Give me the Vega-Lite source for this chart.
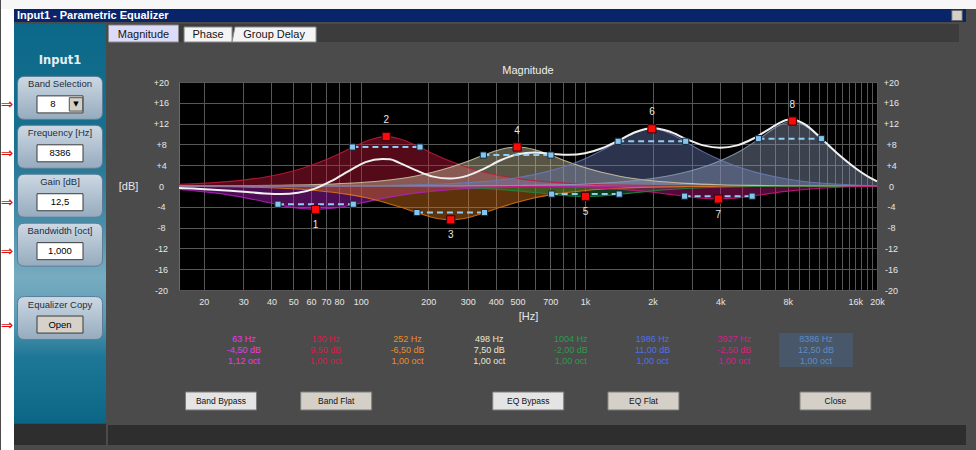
{
  "$schema": "https://vega.github.io/schema/vega-lite/v6.json",
  "background": "#4b4b4b",
  "padding": 0,
  "config": {
    "view": {"stroke": null},
    "font": "Liberation Sans",
    "text": {"font": "Liberation Sans"},
    "axis": {"labelFont": "Liberation Sans", "titleFont": "Liberation Sans"},
    "title": {"font": "Liberation Sans"}
  },
  "datasets": {
    "bands": [
      {"band":1,"f":15.5,"db":-0.68},{"band":1,"f":18.7,"db":-0.98},{"band":1,"f":22.3,"db":-1.33},{"band":1,"f":26.5,"db":-1.8},{"band":1,"f":31.5,"db":-2.38},{"band":1,"f":37.5,"db":-3.05},{"band":1,"f":44.5,"db":-3.74},{"band":1,"f":53,"db":-4.29},{"band":1,"f":63,"db":-4.5},{"band":1,"f":74.9,"db":-4.29},{"band":1,"f":89.1,"db":-3.74},{"band":1,"f":105.9,"db":-3.05},{"band":1,"f":126,"db":-2.38},{"band":1,"f":149.8,"db":-1.8},{"band":1,"f":178.2,"db":-1.33},{"band":1,"f":211.9,"db":-0.98},{"band":1,"f":252,"db":-0.71},{"band":1,"f":356,"db":-0.36},{"band":1,"f":504,"db":-0.18},{"band":1,"f":713,"db":-0.09},{"band":1,"f":1008,"db":-0.05},{"band":1,"f":2016,"db":-0.01},{"band":1,"f":4032,"db":0},{"band":1,"f":20000,"db":0},
      {"band":2,"f":15.5,"db":0.33},{"band":2,"f":23,"db":0.69},{"band":2,"f":32.5,"db":1.33},{"band":2,"f":38.65,"db":1.84},{"band":2,"f":45.96,"db":2.5},{"band":2,"f":54.66,"db":3.38},{"band":2,"f":65,"db":4.5},{"band":2,"f":77.3,"db":5.87},{"band":2,"f":91.9,"db":7.43},{"band":2,"f":109.3,"db":8.86},{"band":2,"f":130,"db":9.5},{"band":2,"f":154.6,"db":8.86},{"band":2,"f":183.8,"db":7.43},{"band":2,"f":218.6,"db":5.87},{"band":2,"f":260,"db":4.5},{"band":2,"f":309.2,"db":3.38},{"band":2,"f":367.7,"db":2.5},{"band":2,"f":437.3,"db":1.84},{"band":2,"f":520,"db":1.33},{"band":2,"f":735.4,"db":0.69},{"band":2,"f":1040,"db":0.35},{"band":2,"f":1471,"db":0.18},{"band":2,"f":2080,"db":0.09},{"band":2,"f":4160,"db":0.02},{"band":2,"f":8320,"db":0.01},{"band":2,"f":20000,"db":0},
      {"band":3,"f":15.5,"db":-0.05},{"band":3,"f":31.5,"db":-0.22},{"band":3,"f":44.5,"db":-0.44},{"band":3,"f":63,"db":-0.86},{"band":3,"f":74.9,"db":-1.2},{"band":3,"f":89.1,"db":-1.66},{"band":3,"f":106,"db":-2.27},{"band":3,"f":126,"db":-3.07},{"band":3,"f":149.8,"db":-4.05},{"band":3,"f":178.2,"db":-5.14},{"band":3,"f":211.9,"db":-6.1},{"band":3,"f":252,"db":-6.5},{"band":3,"f":299.7,"db":-6.1},{"band":3,"f":356.4,"db":-5.14},{"band":3,"f":423.8,"db":-4.05},{"band":3,"f":504,"db":-3.07},{"band":3,"f":599.4,"db":-2.27},{"band":3,"f":712.8,"db":-1.66},{"band":3,"f":847.6,"db":-1.2},{"band":3,"f":1008,"db":-0.86},{"band":3,"f":1425.5,"db":-0.44},{"band":3,"f":2016,"db":-0.22},{"band":3,"f":2851,"db":-0.11},{"band":3,"f":4032,"db":-0.05},{"band":3,"f":8064,"db":-0.01},{"band":3,"f":20000,"db":0},
      {"band":4,"f":15.5,"db":0.02},{"band":4,"f":31.1,"db":0.07},{"band":4,"f":44,"db":0.13},{"band":4,"f":62.25,"db":0.26},{"band":4,"f":88,"db":0.52},{"band":4,"f":124.5,"db":1.01},{"band":4,"f":148.1,"db":1.4},{"band":4,"f":176.1,"db":1.93},{"band":4,"f":209.4,"db":2.63},{"band":4,"f":249,"db":3.54},{"band":4,"f":296.1,"db":4.66},{"band":4,"f":352.1,"db":5.91},{"band":4,"f":418.8,"db":7.03},{"band":4,"f":498,"db":7.5},{"band":4,"f":592.2,"db":7.03},{"band":4,"f":704.3,"db":5.91},{"band":4,"f":837.5,"db":4.66},{"band":4,"f":996,"db":3.54},{"band":4,"f":1184.5,"db":2.63},{"band":4,"f":1408.6,"db":1.93},{"band":4,"f":1675,"db":1.4},{"band":4,"f":1992,"db":1.01},{"band":4,"f":2817,"db":0.51},{"band":4,"f":3984,"db":0.25},{"band":4,"f":5634,"db":0.12},{"band":4,"f":7968,"db":0.05},{"band":4,"f":20000,"db":0},
      {"band":5,"f":15.5,"db":0},{"band":5,"f":62.75,"db":-0.02},{"band":5,"f":125.5,"db":-0.06},{"band":5,"f":177.5,"db":-0.13},{"band":5,"f":251,"db":-0.25},{"band":5,"f":298.5,"db":-0.35},{"band":5,"f":355,"db":-0.49},{"band":5,"f":422,"db":-0.69},{"band":5,"f":502,"db":-0.94},{"band":5,"f":597,"db":-1.26},{"band":5,"f":710,"db":-1.6},{"band":5,"f":844,"db":-1.89},{"band":5,"f":1004,"db":-2},{"band":5,"f":1194,"db":-1.89},{"band":5,"f":1420,"db":-1.6},{"band":5,"f":1689,"db":-1.26},{"band":5,"f":2008,"db":-0.94},{"band":5,"f":2388,"db":-0.68},{"band":5,"f":2840,"db":-0.49},{"band":5,"f":3377,"db":-0.35},{"band":5,"f":4016,"db":-0.24},{"band":5,"f":5680,"db":-0.11},{"band":5,"f":8032,"db":-0.05},{"band":5,"f":16064,"db":-0.01},{"band":5,"f":20000,"db":0},
      {"band":6,"f":15.5,"db":0},{"band":6,"f":31,"db":0.01},{"band":6,"f":62.06,"db":0.03},{"band":6,"f":124.1,"db":0.11},{"band":6,"f":175.5,"db":0.22},{"band":6,"f":248.3,"db":0.43},{"band":6,"f":351.1,"db":0.84},{"band":6,"f":496.5,"db":1.6},{"band":6,"f":590.4,"db":2.19},{"band":6,"f":702.2,"db":2.96},{"band":6,"f":835,"db":3.95},{"band":6,"f":993,"db":5.21},{"band":6,"f":1180.9,"db":6.76},{"band":6,"f":1404.3,"db":8.54},{"band":6,"f":1670.1,"db":10.23},{"band":6,"f":1986,"db":11},{"band":6,"f":2362,"db":10.21},{"band":6,"f":2809,"db":8.48},{"band":6,"f":3340,"db":6.66},{"band":6,"f":3972,"db":5.08},{"band":6,"f":4723,"db":3.78},{"band":6,"f":5617,"db":2.76},{"band":6,"f":7944,"db":1.36},{"band":6,"f":11234,"db":0.57},{"band":6,"f":15888,"db":0.17},{"band":6,"f":20000,"db":0.04},
      {"band":7,"f":15.5,"db":0},{"band":7,"f":122.7,"db":-0.01},{"band":7,"f":245.4,"db":-0.02},{"band":7,"f":347,"db":-0.04},{"band":7,"f":491,"db":-0.08},{"band":7,"f":694,"db":-0.16},{"band":7,"f":982,"db":-0.3},{"band":7,"f":1167.6,"db":-0.44},{"band":7,"f":1388.4,"db":-0.61},{"band":7,"f":1651,"db":-0.85},{"band":7,"f":1963.5,"db":-1.15},{"band":7,"f":2335,"db":-1.56},{"band":7,"f":2777,"db":-1.98},{"band":7,"f":3302,"db":-2.35},{"band":7,"f":3927,"db":-2.5},{"band":7,"f":4670,"db":-2.34},{"band":7,"f":5554,"db":-1.94},{"band":7,"f":6604,"db":-1.47},{"band":7,"f":7854,"db":-1.04},{"band":7,"f":11107,"db":-0.44},{"band":7,"f":15708,"db":-0.13},{"band":7,"f":20000,"db":-0.03},
      {"band":8,"f":15.5,"db":0},{"band":8,"f":131,"db":0.01},{"band":8,"f":262,"db":0.03},{"band":8,"f":524,"db":0.11},{"band":8,"f":1048,"db":0.42},{"band":8,"f":1482,"db":0.83},{"band":8,"f":2096,"db":1.58},{"band":8,"f":2493,"db":2.16},{"band":8,"f":2965,"db":2.93},{"band":8,"f":3526,"db":3.94},{"band":8,"f":4193,"db":5.24},{"band":8,"f":4986,"db":6.89},{"band":8,"f":5930,"db":8.96},{"band":8,"f":7052,"db":11.24},{"band":8,"f":8386,"db":12.5},{"band":8,"f":9973,"db":11.06},{"band":8,"f":11860,"db":8.15},{"band":8,"f":14103,"db":5.28},{"band":8,"f":16772,"db":2.8},{"band":8,"f":19945,"db":0.9},{"band":8,"f":20000,"db":0.87}
    ],
    "total": [
      {"f":15.5,"db":-0.4},{"f":18.58,"db":-0.52},{"f":22.1,"db":-0.7},{"f":26.28,"db":-0.93},{"f":31.25,"db":-1.17},{"f":37.16,"db":-1.42},{"f":44.19,"db":-1.55},{"f":52.56,"db":-1.3},{"f":62.5,"db":-0.5},{"f":74.3,"db":1.0},{"f":88.4,"db":2.85},{"f":105.1,"db":4.6},{"f":125,"db":5.2},{"f":135,"db":5.15},{"f":148.7,"db":4.45},{"f":176.8,"db":3.0},{"f":210.2,"db":1.8},{"f":250,"db":1.42},{"f":297.3,"db":1.95},{"f":353.6,"db":3.3},{"f":420.4,"db":4.95},{"f":500,"db":6.12},{"f":594.6,"db":6.45},{"f":707.1,"db":6.21},{"f":840.9,"db":5.99},{"f":1000,"db":6.29},{"f":1189,"db":7.25},{"f":1414,"db":8.77},{"f":1682,"db":10.38},{"f":2000,"db":11.17},{"f":2378,"db":10.47},{"f":2828,"db":9.01},{"f":3364,"db":7.81},{"f":4000,"db":7.34},{"f":4757,"db":7.81},{"f":5657,"db":9.18},{"f":6727,"db":11.15},{"f":8000,"db":12.73},{"f":8386,"db":12.8},{"f":9514,"db":11.91},{"f":11314,"db":9.11},{"f":13454,"db":6.11},{"f":16000,"db":3.47},{"f":19027,"db":1.36},{"f":20000,"db":0.88}
    ],
    "edges": [
      {"band":1,"f":42.8,"db":-3.5},{"band":1,"f":92.7,"db":-3.5},
      {"band":2,"f":91.9,"db":7.5},{"band":2,"f":183.8,"db":7.5},
      {"band":3,"f":178.2,"db":-5.1},{"band":3,"f":356.4,"db":-5.1},
      {"band":4,"f":352.1,"db":5.95},{"band":4,"f":704.3,"db":5.95},
      {"band":5,"f":710,"db":-1.55},{"band":5,"f":1420,"db":-1.55},
      {"band":6,"f":1404,"db":8.6},{"band":6,"f":2809,"db":8.6},
      {"band":7,"f":2777,"db":-1.95},{"band":7,"f":5554,"db":-1.95},
      {"band":8,"f":5930,"db":9.1},{"band":8,"f":11300,"db":9.1}
    ],
    "peaks": [
      {"band":1,"f":63,"db":-4.5},{"band":2,"f":130,"db":9.5},{"band":3,"f":252,"db":-6.5},{"band":4,"f":498,"db":7.5},
      {"band":5,"f":1004,"db":-2},{"band":6,"f":1986,"db":11},{"band":7,"f":3927,"db":-2.5},{"band":8,"f":8386,"db":12.5}
    ],
    "table": [
      {"band":1,"row":"Hz","label":"63 Hz"},{"band":1,"row":"dB","label":"-4,50 dB"},{"band":1,"row":"oct","label":"1,12 oct"},
      {"band":2,"row":"Hz","label":"130 Hz"},{"band":2,"row":"dB","label":"9,50 dB"},{"band":2,"row":"oct","label":"1,00 oct"},
      {"band":3,"row":"Hz","label":"252 Hz"},{"band":3,"row":"dB","label":"-6,50 dB"},{"band":3,"row":"oct","label":"1,00 oct"},
      {"band":4,"row":"Hz","label":"498 Hz"},{"band":4,"row":"dB","label":"7,50 dB"},{"band":4,"row":"oct","label":"1,00 oct"},
      {"band":5,"row":"Hz","label":"1004 Hz"},{"band":5,"row":"dB","label":"-2,00 dB"},{"band":5,"row":"oct","label":"1,00 oct"},
      {"band":6,"row":"Hz","label":"1986 Hz"},{"band":6,"row":"dB","label":"11,00 dB"},{"band":6,"row":"oct","label":"1,00 oct"},
      {"band":7,"row":"Hz","label":"3927 Hz"},{"band":7,"row":"dB","label":"-2,50 dB"},{"band":7,"row":"oct","label":"1,00 oct"},
      {"band":8,"row":"Hz","label":"8386 Hz"},{"band":8,"row":"dB","label":"12,50 dB"},{"band":8,"row":"oct","label":"1,00 oct"}
    ],
    "panel": [
      {"item":"Input1","kind":"title","value":""},
      {"item":"Band Selection","kind":"combo","value":"8"},
      {"item":"Frequency [Hz]","kind":"field","value":"8386"},
      {"item":"Gain [dB]","kind":"field","value":"12,5"},
      {"item":"Bandwidth [oct]","kind":"field","value":"1,000"},
      {"item":"Equalizer Copy","kind":"button","value":"Open"}
    ]
  },
  "bounds": "flush",
  "spacing": 0,
  "resolve": {"scale": {"color": "independent", "shape": "independent", "x": "independent", "y": "independent"}},
  "vconcat": [
    {"width": 976, "height": 9, "view": {"fill": "#f7f7f7"}, "data": {"values": [{}]}, "mark": {"type": "point", "opacity": 0}, "encoding": {}},
    {
      "bounds": "flush",
      "spacing": 0,
      "resolve": {"scale": {"color": "independent", "shape": "independent", "x": "independent", "y": "independent"}},
      "hconcat": [
        {"width": 13, "height": 441, "view": {"fill": "#ffffff"}, "data": {"values": [{}]}, "mark": {"type": "point", "opacity": 0}, "encoding": {}},
        {
          "bounds": "flush",
          "spacing": 2,
          "resolve": {"scale": {"color": "independent", "shape": "independent", "x": "independent", "y": "independent"}},
          "vconcat": [
            {
              "width": 952, "height": 13,
              "view": {"fill": "#0a246a"},
              "data": {"values": [{"t": "Input1 - Parametric Equalizer"}]},
              "layer": [
                {"mark": {"type": "text", "align": "left", "dx": 3, "fontWeight": "bold", "fontSize": 11, "color": "#ffffff"},
                 "encoding": {"x": {"datum": 0, "type": "quantitative", "scale": {"domain": [0, 1]}, "axis": null}, "text": {"field": "t"}}},
                {"mark": {"type": "square", "size": 110, "filled": true, "color": "#d4d0c8", "stroke": "#5a5a5a", "strokeWidth": 1, "opacity": 1, "xOffset": -9},
                 "encoding": {"x": {"datum": 1, "type": "quantitative", "scale": {"domain": [0, 1]}, "axis": null}}}
              ]
            },
            {
              "bounds": "flush",
              "spacing": 2,
              "resolve": {"scale": {"color": "independent", "shape": "independent"}},
              "hconcat": [
                {
                  "width": 92, "height": 421,
                  "data": {"name": "panel"},
                  "layer": [
                    {"data": {"values": [{}]},
                     "mark": {"type": "rect", "color": {"gradient": "linear", "x1": 0, "y1": 0, "x2": 0, "y2": 1,
                       "stops": [{"offset": 0, "color": "#0c6889"}, {"offset": 0.28, "color": "#18718f"}, {"offset": 0.48, "color": "#4a8fab"}, {"offset": 0.6, "color": "#78acc0"}, {"offset": 0.7, "color": "#5a9ab3"}, {"offset": 0.79, "color": "#1e7796"}, {"offset": 0.948, "color": "#0b6686"}, {"offset": 0.951, "color": "#2e2e2e"}, {"offset": 1, "color": "#2e2e2e"}]}},
                     "encoding": {}},
                    {"transform": [{"filter": "datum.kind != 'title'"}],
                     "mark": {"type": "text", "fontSize": 15, "font": "DejaVu Sans", "color": "#e01010", "dx": -53, "dy": 6.5},
                     "encoding": {"y": {"field": "item", "type": "nominal", "axis": null, "scale": {"type": "point", "domain": ["_a","_b","_c","Input1","_1","_2","Band Selection","_4","_5","_6","Frequency [Hz]","_8","_9","_10","Gain [dB]","_12","_13","_14","Bandwidth [oct]","_16","_17","_18","_19","_20","Equalizer Copy","_z1","_z2","_z3","_z4","_z5","_z6","_z7","_z8","_z9"], "padding": 0.71, "align": 0.029}}, "text": {"value": "⇒"}}},
                    {"transform": [{"filter": "datum.kind != 'title'"}],
                     "mark": {"type": "point", "shape": "M-0.835,-0.506 L0.835,-0.506 Q1,-0.506 1,-0.341 L1,0.341 Q1,0.506 0.835,0.506 L-0.835,0.506 Q-1,0.506 -1,0.341 L-1,-0.341 Q-1,-0.506 -0.835,-0.506 Z",
                       "size": 7225, "filled": true, "opacity": 1, "stroke": "#5b7d97", "strokeWidth": 1,
                       "color": {"gradient": "linear", "x1": 0, "y1": 0, "x2": 0, "y2": 1, "stops": [{"offset": 0, "color": "#cdd8e3"}, {"offset": 1, "color": "#95abbe"}]}},
                     "encoding": {"y": {"field": "item", "type": "nominal", "axis": null, "scale": {"type": "point", "domain": ["_a","_b","_c","Input1","_1","_2","Band Selection","_4","_5","_6","Frequency [Hz]","_8","_9","_10","Gain [dB]","_12","_13","_14","Bandwidth [oct]","_16","_17","_18","_19","_20","Equalizer Copy","_z1","_z2","_z3","_z4","_z5","_z6","_z7","_z8","_z9"], "padding": 0.71, "align": 0.029}}}},
                    {"transform": [{"filter": "datum.kind != 'title'"}],
                     "mark": {"type": "text", "fontSize": 9.5, "color": "#1e2e3e", "dy": -13.5},
                     "encoding": {"y": {"field": "item", "type": "nominal", "axis": null, "scale": {"type": "point", "domain": ["_a","_b","_c","Input1","_1","_2","Band Selection","_4","_5","_6","Frequency [Hz]","_8","_9","_10","Gain [dB]","_12","_13","_14","Bandwidth [oct]","_16","_17","_18","_19","_20","Equalizer Copy","_z1","_z2","_z3","_z4","_z5","_z6","_z7","_z8","_z9"], "padding": 0.71, "align": 0.029}}, "text": {"field": "item"}}},
                    {"transform": [{"filter": "datum.kind == 'title'"}],
                     "mark": {"type": "text", "fontSize": 11.5, "fontWeight": "bold", "font": "DejaVu Sans", "color": "#e6eef5"},
                     "encoding": {"y": {"field": "item", "type": "nominal", "axis": null, "scale": {"type": "point", "domain": ["_a","_b","_c","Input1","_1","_2","Band Selection","_4","_5","_6","Frequency [Hz]","_8","_9","_10","Gain [dB]","_12","_13","_14","Bandwidth [oct]","_16","_17","_18","_19","_20","Equalizer Copy","_z1","_z2","_z3","_z4","_z5","_z6","_z7","_z8","_z9"], "padding": 0.71, "align": 0.029}}, "text": {"field": "item"}}},
                    {"transform": [{"filter": "datum.kind != 'title'"}],
                     "mark": {"type": "point", "shape": "M-1,-0.37 L1,-0.37 L1,0.37 L-1,0.37 Z", "size": 2116, "filled": true, "opacity": 1, "stroke": "#3a3a3a", "strokeWidth": 1, "yOffset": 6.5},
                     "encoding": {"y": {"field": "item", "type": "nominal", "axis": null, "scale": {"type": "point", "domain": ["_a","_b","_c","Input1","_1","_2","Band Selection","_4","_5","_6","Frequency [Hz]","_8","_9","_10","Gain [dB]","_12","_13","_14","Bandwidth [oct]","_16","_17","_18","_19","_20","Equalizer Copy","_z1","_z2","_z3","_z4","_z5","_z6","_z7","_z8","_z9"], "padding": 0.71, "align": 0.029}},
                       "color": {"field": "kind", "type": "nominal", "scale": {"domain": ["combo", "field", "button"], "range": ["#ffffff", "#ffffff", "#d6d2ca"]}, "legend": null}}},
                    {"transform": [{"filter": "datum.kind == 'combo'"}],
                     "mark": {"type": "square", "size": 180, "filled": true, "opacity": 1, "color": "#d4d0c8", "stroke": "#505050", "strokeWidth": 1, "xOffset": 16, "yOffset": 6.5},
                     "encoding": {"y": {"field": "item", "type": "nominal", "axis": null, "scale": {"type": "point", "domain": ["_a","_b","_c","Input1","_1","_2","Band Selection","_4","_5","_6","Frequency [Hz]","_8","_9","_10","Gain [dB]","_12","_13","_14","Bandwidth [oct]","_16","_17","_18","_19","_20","Equalizer Copy","_z1","_z2","_z3","_z4","_z5","_z6","_z7","_z8","_z9"], "padding": 0.71, "align": 0.029}}}},
                    {"transform": [{"filter": "datum.kind == 'combo'"}],
                     "mark": {"type": "text", "fontSize": 7, "font": "DejaVu Sans", "color": "#000000", "dx": 16, "dy": 6.5},
                     "encoding": {"y": {"field": "item", "type": "nominal", "axis": null, "scale": {"type": "point", "domain": ["_a","_b","_c","Input1","_1","_2","Band Selection","_4","_5","_6","Frequency [Hz]","_8","_9","_10","Gain [dB]","_12","_13","_14","Bandwidth [oct]","_16","_17","_18","_19","_20","Equalizer Copy","_z1","_z2","_z3","_z4","_z5","_z6","_z7","_z8","_z9"], "padding": 0.71, "align": 0.029}}, "text": {"value": "▼"}}},
                    {"transform": [{"filter": "datum.kind == 'field' || datum.kind == 'button'"}],
                     "mark": {"type": "text", "fontSize": 9.5, "color": "#000000", "dy": 6.5},
                     "encoding": {"y": {"field": "item", "type": "nominal", "axis": null, "scale": {"type": "point", "domain": ["_a","_b","_c","Input1","_1","_2","Band Selection","_4","_5","_6","Frequency [Hz]","_8","_9","_10","Gain [dB]","_12","_13","_14","Bandwidth [oct]","_16","_17","_18","_19","_20","Equalizer Copy","_z1","_z2","_z3","_z4","_z5","_z6","_z7","_z8","_z9"], "padding": 0.71, "align": 0.029}}, "text": {"field": "value"}}},
                    {"transform": [{"filter": "datum.kind == 'combo'"}],
                     "mark": {"type": "text", "fontSize": 9.5, "color": "#000000", "dy": 6.5, "dx": -7},
                     "encoding": {"y": {"field": "item", "type": "nominal", "axis": null, "scale": {"type": "point", "domain": ["_a","_b","_c","Input1","_1","_2","Band Selection","_4","_5","_6","Frequency [Hz]","_8","_9","_10","Gain [dB]","_12","_13","_14","Bandwidth [oct]","_16","_17","_18","_19","_20","Equalizer Copy","_z1","_z2","_z3","_z4","_z5","_z6","_z7","_z8","_z9"], "padding": 0.71, "align": 0.029}}, "text": {"field": "value"}}}
                  ]
                },
                {
                  "columns": 2,
                  "align": "each",
                  "bounds": "flush",
                  "spacing": 0,
                  "resolve": {"scale": {"color": "independent", "shape": "independent"}},
                  "concat": [
                    {
                      "width": 71, "height": 18,
                      "view": {"fill": "#3c3c3c"},
                      "data": {"values": [{"tab": "Magnitude"}]},
                      "layer": [
                        {"mark": {"type": "point", "size": 7056, "filled": true, "opacity": 1, "stroke": "#8c8c8c", "strokeWidth": 1, "color": "#dcdcfa",
                          "shape": "M-0.833,-0.19 L0.833,-0.19 L0.833,0.214 L-0.833,0.214 Z"},
                         "encoding": {}},
                        {"mark": {"type": "text", "fontSize": 11, "color": "#151515", "dy": 1.5},
                         "encoding": {"text": {"field": "tab"}}}
                      ]
                    },
                    {
                      "width": 780, "height": 18,
                      "view": {"fill": "#3c3c3c"},
                      "data": {"values": [{"tab": "Phase"}, {"tab": "Group Delay"}]},
                      "encoding": {"x": {"field": "tab", "type": "nominal", "axis": null, "scale": {"type": "point", "domain": ["Phase", "Group Delay", "_1", "_2", "_3", "_4", "_5", "_6", "_7", "_8", "_9"], "padding": 0.91, "align": 0.242}}},
                      "layer": [
                        {"mark": {"type": "point", "size": 7056, "filled": true, "opacity": 1, "stroke": "#8c8c8c", "strokeWidth": 1, "color": "#f4f4f4"},
                         "encoding": {
                           "shape": {"field": "tab", "type": "nominal", "legend": null, "scale": {"domain": ["Phase", "Group Delay"], "range": ["M-0.571,-0.143 L0.571,-0.143 L0.571,0.214 L-0.571,0.214 Z", "M-0.93,-0.143 L1,-0.143 L1,0.214 L-1,0.214 Z"]}}}},
                        {"mark": {"type": "text", "fontSize": 11, "color": "#151515", "dy": 1.5},
                         "encoding": {"text": {"field": "tab"}}}
                      ]
                    },
                    {"width": 71, "height": 40, "data": {"values": [{}]}, "mark": {"type": "point", "opacity": 0}, "encoding": {}},
                    {"width": 780, "height": 40, "data": {"values": [{}]}, "mark": {"type": "point", "opacity": 0}, "encoding": {}},
                    {"width": 71, "height": 208, "data": {"values": [{}]}, "mark": {"type": "point", "opacity": 0}, "encoding": {}},
                    {
                      "width": 698, "height": 208,
                      "view": {"fill": "#000000", "stroke": "#6b6b6b", "strokeWidth": 1},
                      "title": {"text": "Magnitude", "fontSize": 11, "fontWeight": "normal", "color": "#eeeeee", "offset": 2},
                      "encoding": {
                        "x": {"field": "f", "type": "quantitative", "scale": {"type": "log", "domain": [15.5, 20000], "nice": false},
                          "axis": {
                            "values": [20,30,40,50,60,70,80,90,100,200,300,400,500,600,700,800,900,1000,2000,3000,4000,5000,6000,7000,8000,9000,10000,11000,12000,13000,14000,15000,16000,17000,18000,19000,20000],
                            "labelExpr": "indexof([20,30,40,50,60,70,80,100,200,300,400,500,700,1000,2000,4000,8000,16000,20000], datum.value) >= 0 ? (datum.value >= 1000 ? (datum.value / 1000) + 'k' : '' + datum.value) : ''",
                            "grid": true, "gridColor": "#575757", "gridWidth": 1, "ticks": false, "tickSize": 0, "domain": false,
                            "labelColor": "#e6e6e6", "labelFontSize": 9, "labelPadding": 7, "labelOverlap": false, "labelFlush": false, "labelBound": false,
                            "title": "[Hz]", "titleColor": "#e6e6e6", "titleFontSize": 11, "titleFontWeight": "normal", "titlePadding": 4
                          }}
                      },
                      "layer": [
                        {"data": {"name": "bands"},
                         "mark": {"type": "area", "interpolate": "monotone", "fillOpacity": 0.42, "line": {"strokeWidth": 1.1, "opacity": 0.85}},
                         "encoding": {
                           "y": {"field": "db", "type": "quantitative", "stack": null, "scale": {"domain": [-20, 20], "nice": false, "zero": false},
                             "axis": {"orient": "left", "values": [-20,-16,-12,-8,-4,0,4,8,12,16,20], "labelExpr": "datum.value > 0 ? '+' + datum.value : '' + datum.value",
                               "grid": true, "gridColor": "#575757", "ticks": false, "tickSize": 0, "domain": false,
                               "labelAlign": "center", "labelPadding": 18, "labelColor": "#e6e6e6", "labelFontSize": 9, "labelFlush": false, "labelOverlap": false,
                               "title": "[dB]", "titleAngle": 0, "titleX": -51, "titleY": 104, "titleAlign": "center", "titleBaseline": "middle",
                               "titleColor": "#e6e6e6", "titleFontSize": 11, "titleFontWeight": "normal"}},
                           "y2": {"datum": 0},
                           "color": {"field": "band", "type": "nominal", "legend": null,
                             "scale": {"domain": [1,2,3,4,5,6,7,8], "range": ["#b41ec4", "#c8183c", "#e07818", "#d2caa4", "#1f8a3c", "#6a7ab8", "#c81880", "#8c9cb8"]}}
                         }},
                        {"data": {"name": "total"},
                         "mark": {"type": "line", "interpolate": "monotone", "color": "#f0f0f0", "strokeWidth": 2},
                         "encoding": {
                           "y": {"field": "db", "type": "quantitative", "scale": {"domain": [-20, 20], "nice": false, "zero": false},
                             "axis": {"orient": "right", "values": [-20,-16,-12,-8,-4,0,4,8,12,16,20], "labelExpr": "datum.value > 0 ? '+' + datum.value : '' + datum.value",
                               "grid": false, "ticks": false, "tickSize": 0, "domain": false,
                               "labelAlign": "center", "labelPadding": 14, "labelColor": "#e6e6e6", "labelFontSize": 9, "labelFlush": false, "labelOverlap": false, "title": null}}
                         }},
                        {"data": {"name": "edges"},
                         "mark": {"type": "line", "color": "#8fcdf2", "strokeWidth": 2, "strokeDash": [6, 4]},
                         "encoding": {
                           "y": {"field": "db", "type": "quantitative", "scale": {"domain": [-20, 20], "nice": false, "zero": false}, "axis": null},
                           "detail": {"field": "band", "type": "nominal"}
                         }},
                        {"data": {"name": "edges"},
                         "mark": {"type": "square", "size": 38, "filled": true, "opacity": 1, "color": "#86c6ee", "stroke": "#10293a", "strokeWidth": 1},
                         "encoding": {
                           "y": {"field": "db", "type": "quantitative", "scale": {"domain": [-20, 20], "nice": false, "zero": false}, "axis": null}
                         }},
                        {"data": {"name": "peaks"},
                         "mark": {"type": "square", "size": 66, "filled": true, "opacity": 1, "color": "#ff0a0a", "stroke": "#3a0000", "strokeWidth": 1},
                         "encoding": {
                           "y": {"field": "db", "type": "quantitative", "scale": {"domain": [-20, 20], "nice": false, "zero": false}, "axis": null}
                         }},
                        {"data": {"name": "peaks"},
                         "transform": [{"filter": "datum.db > 0"}],
                         "mark": {"type": "text", "fontSize": 10, "color": "#e8e8e8", "dy": -16.5},
                         "encoding": {
                           "y": {"field": "db", "type": "quantitative", "scale": {"domain": [-20, 20], "nice": false, "zero": false}, "axis": null},
                           "text": {"field": "band", "type": "nominal"}
                         }},
                        {"data": {"name": "peaks"},
                         "transform": [{"filter": "datum.db < 0"}],
                         "mark": {"type": "text", "fontSize": 10, "color": "#e8e8e8", "dy": 15.5},
                         "encoding": {
                           "y": {"field": "db", "type": "quantitative", "scale": {"domain": [-20, 20], "nice": false, "zero": false}, "axis": null},
                           "text": {"field": "band", "type": "nominal"}
                         }}
                      ],
                      "resolve": {"axis": {"y": "independent"}}
                    },
                    {"width": 71, "height": 43, "data": {"values": [{}]}, "mark": {"type": "point", "opacity": 0}, "encoding": {}},
                    {"width": 780, "height": 43, "data": {"values": [{}]}, "mark": {"type": "point", "opacity": 0}, "encoding": {}},
                    {"width": 71, "height": 34, "data": {"values": [{}]}, "mark": {"type": "point", "opacity": 0}, "encoding": {}},
                    {
                      "width": 702, "height": 34,
                      "data": {"name": "table"},
                      "layer": [
                        {"transform": [{"filter": "datum.band == 8 && datum.row == 'Hz'"}],
                         "mark": {"type": "rect", "color": "#48586a"},
                         "encoding": {"x": {"field": "band", "type": "ordinal", "axis": null, "scale": {"type": "band", "domain": [1,2,3,4,5,6,7,8], "paddingInner": 0.1, "paddingOuter": 0.3457}}}},
                        {"mark": {"type": "text", "fontSize": 9},
                         "encoding": {
                           "x": {"field": "band", "type": "ordinal", "axis": null, "scale": {"type": "band", "domain": [1,2,3,4,5,6,7,8], "paddingInner": 0.1, "paddingOuter": 0.3457}},
                           "y": {"field": "row", "type": "ordinal", "axis": null, "scale": {"domain": ["Hz", "dB", "oct"]}},
                           "text": {"field": "label"},
                           "color": {"field": "band", "type": "nominal", "legend": null,
                             "scale": {"domain": [1,2,3,4,5,6,7,8], "range": ["#e63ce6", "#d4204a", "#f08c28", "#ece6cc", "#2c9c4c", "#4e70ec", "#d42088", "#5c8cc4"]}}
                         }}
                      ]
                    },
                    {"width": 71, "height": 25, "data": {"values": [{}]}, "mark": {"type": "point", "opacity": 0}, "encoding": {}},
                    {"width": 780, "height": 25, "data": {"values": [{}]}, "mark": {"type": "point", "opacity": 0}, "encoding": {}},
                    {"width": 71, "height": 18, "data": {"values": [{}]}, "mark": {"type": "point", "opacity": 0}, "encoding": {}},
                    {
                      "width": 780, "height": 18,
                      "data": {"values": [{"label": "Band Bypass"}, {"label": "Band Flat"}, {"label": "EQ Bypass"}, {"label": "EQ Flat"}, {"label": "Close"}]},
                      "encoding": {"x": {"field": "label", "type": "nominal", "axis": null,
                        "scale": {"type": "point", "domain": ["_a","Band Bypass","_1","_2","Band Flat","_4","_5","_6","_7","EQ Bypass","_9","_10","EQ Flat","_12","_13","_14","_15","Close","_z1","_z2"], "padding": 0.655, "align": 0.0714}}},
                      "layer": [
                        {"mark": {"type": "point", "shape": "M-1,-0.2535 L1,-0.2535 L1,0.2535 L-1,0.2535 Z", "size": 5041, "filled": true, "opacity": 1, "stroke": "#7c7c7c", "strokeWidth": 1},
                         "encoding": {"color": {"field": "label", "type": "nominal", "legend": null,
                           "scale": {"domain": ["Band Bypass", "Band Flat", "EQ Bypass", "EQ Flat", "Close"], "range": ["#e4e4e4", "#d4d0c8", "#e4e4e4", "#d4d0c8", "#d4d0c8"]}}}},
                        {"mark": {"type": "text", "fontSize": 8.5, "color": "#111111"},
                         "encoding": {"text": {"field": "label"}}}
                      ]
                    },
                    {"width": 71, "height": 15, "data": {"values": [{}]}, "mark": {"type": "point", "opacity": 0}, "encoding": {}},
                    {"width": 780, "height": 15, "data": {"values": [{}]}, "mark": {"type": "point", "opacity": 0}, "encoding": {}},
                    {"width": 71, "height": 20, "view": {"fill": "#2e2e2e"}, "data": {"values": [{}]}, "mark": {"type": "point", "opacity": 0}, "encoding": {}},
                    {"width": 787, "height": 20, "view": {"fill": "#2e2e2e"}, "data": {"values": [{}]}, "mark": {"type": "point", "opacity": 0}, "encoding": {}}
                  ]
                }
              ]
            }
          ]
        }
      ]
    }
  ]
}
